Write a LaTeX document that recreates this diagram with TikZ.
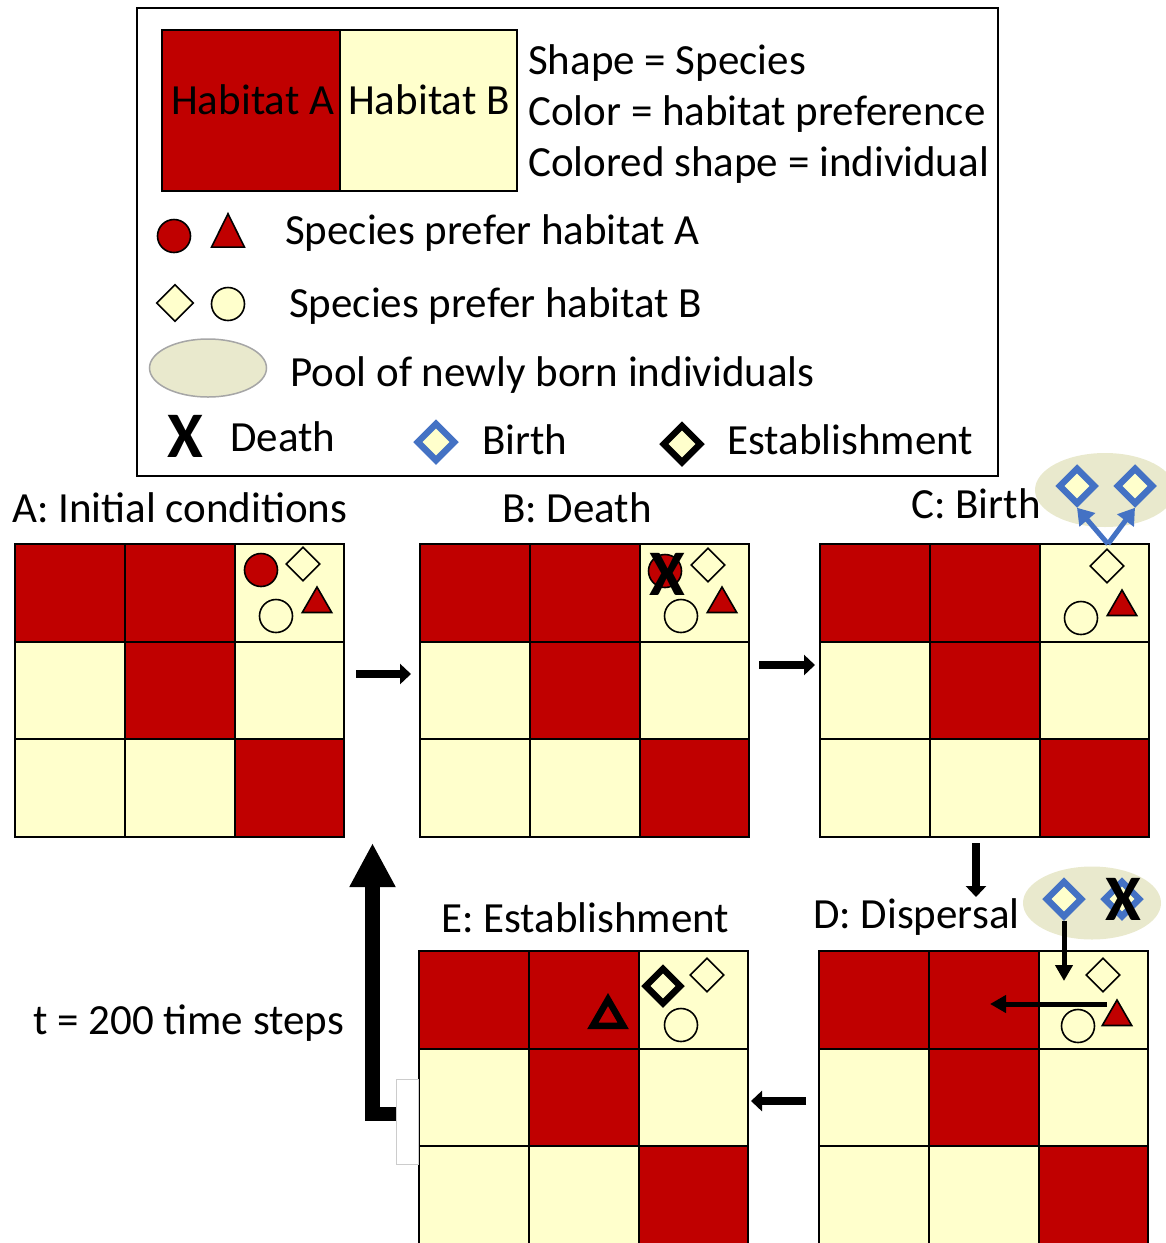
\documentclass[tikz,border=0pt]{standalone}
\usepackage{fontspec}
\setmainfont{Carlito}
\usetikzlibrary{positioning, arrows.meta, shapes.geometric}
\definecolor{habitatred}{HTML}{C00000}
\definecolor{habitatyellow}{HTML}{FFFFCC}
\definecolor{poolcolor}{HTML}{E9E9CD}
\definecolor{birthblue}{HTML}{4472C4}

\begin{document}
\begin{tikzpicture}[
    x=1pt, y=-1pt,
    font=\fontsize{43}{50}\selectfont,
    cell/.style={
        draw, line width=2pt, inner sep=0pt, outer sep=0pt,
        minimum width=109.7pt, minimum height=97.5pt
    },
    redcell/.style={cell, fill=habitatred},
    yellowcell/.style={cell, fill=habitatyellow},
    label/.style={anchor=base west, inner sep=0pt},
    dot/.style={draw, circle, line width=1.6pt, inner sep=0pt, minimum size=33pt},
    reddot/.style={dot, fill=habitatred},
    yellowdot/.style={dot, fill=habitatyellow},
    gem/.style={draw, diamond, line width=1.6pt, fill=habitatyellow, inner sep=0pt, minimum size=34pt},
    birthgem/.style={gem, draw=birthblue, line width=6.5pt, minimum size=37pt},
    boldgem/.style={gem, line width=6.5pt, minimum size=37pt},
    tri/.style={
        draw, regular polygon, regular polygon sides=3, line width=1.6pt,
        fill=habitatred, inner sep=0pt, minimum size=34pt
    },
    pool/.style={draw=none, ellipse, fill=poolcolor, inner sep=0pt},
    cross/.style={inner sep=0pt, font=\fontsize{65}{65}\selectfont\bfseries},
    stepline/.style={draw, line width=8pt, -{Triangle[length=11pt, width=20pt]}},
    moveline/.style={draw, line width=5pt, -{Triangle[length=16pt, width=17pt]}},
    birthline/.style={draw=birthblue, line width=5pt, -{Triangle[length=16pt, width=20pt]}},
    backline/.style={draw, line width=14.5pt, -{Triangle[length=44pt, width=43pt]}}
]
\useasboundingbox (0,0) rectangle (1166,1243);

% ==========================================
% LEGEND
% ==========================================

\node[draw, line width=2pt, inner sep=0pt, minimum width=861pt, minimum height=468pt] (Legend) at (567.5, 242) {};

\node[draw, line width=2pt, fill=habitatred, inner sep=0pt, outer sep=0pt, minimum width=178pt, minimum height=161pt] (HabitatA) at (251, 110.5) {};
\node[draw, line width=2pt, fill=habitatyellow, inner sep=0pt, outer sep=0pt, minimum width=177pt, minimum height=161pt] (HabitatB) [right=0pt of HabitatA] {};
\node[label] (HabitatAText) at (171, 114) {Habitat A};
\node[label] (HabitatBText) at (348, 114) {Habitat B};

\node[label] (ShapeText) at (528, 74) {Shape = Species};
\node[label] (ColorText) at (528, 125) {Color = habitat preference};
\node[label] (ColoredText) at (528, 176) {Colored shape = individual};

\node[reddot] (LegendDot) at (174, 236) {};
\node[tri, yscale=1.17, minimum size=38pt] (LegendTri) at (228, 236) {};
\node[label] (PreferA) at (285, 244) {Species prefer habitat A};

\node[gem, minimum size=37pt] (LegendGem) at (175, 303) {};
\node[yellowdot] (LegendDotB) at (228, 304) {};
\node[label] (PreferB) at (289, 317) {Species prefer habitat B};

\node[pool, draw=gray!70, line width=1.5pt, minimum width=117pt, minimum height=58pt] (LegendPool) at (208, 368) {};
\node[label] (PoolText) at (290, 386) {Pool of newly born individuals};

\node[cross] (LegendCross) at (185, 436) {X};
\node[label] (DeathText) at (230, 451) {Death};
\node[birthgem, minimum size=39pt] (LegendBirth) at (436, 442) {};
\node[label] (BirthText) at (482, 454) {Birth};
\node[boldgem, minimum size=39pt] (LegendEst) at (682, 444) {};
\node[label] (EstText) at (727, 454) {Establishment};

% ==========================================
% A: INITIAL CONDITIONS
% ==========================================

\node[label] (TitleA) at (12, 522) {A: Initial conditions};

\node[redcell] (A1) at (70, 592.75) {};
\node[redcell] (A2) [right=0pt of A1] {};
\node[yellowcell] (A3) [right=0pt of A2] {};
\node[yellowcell] (A4) [below=0pt of A1] {};
\node[redcell] (A5) [right=0pt of A4] {};
\node[yellowcell] (A6) [right=0pt of A5] {};
\node[yellowcell] (A7) [below=0pt of A4] {};
\node[yellowcell] (A8) [right=0pt of A7] {};
\node[redcell] (A9) [right=0pt of A8] {};

\node[reddot] (DotA) at (261, 570) {};
\node[gem] (GemA) at (303, 564) {};
\node[tri] (TriA) at (317, 604) {};
\node[yellowdot] (DotA2) at (276, 616) {};

% ==========================================
% B: DEATH
% ==========================================

\node[label] (TitleB) at (502, 522) {B: Death};

\node[redcell] (B1) at (475, 592.75) {};
\node[redcell] (B2) [right=0pt of B1] {};
\node[yellowcell] (B3) [right=0pt of B2] {};
\node[yellowcell] (B4) [below=0pt of B1] {};
\node[redcell] (B5) [right=0pt of B4] {};
\node[yellowcell] (B6) [right=0pt of B5] {};
\node[yellowcell] (B7) [below=0pt of B4] {};
\node[yellowcell] (B8) [right=0pt of B7] {};
\node[redcell] (B9) [right=0pt of B8] {};

\node[reddot] (DotB) at (665, 571) {};
\node[cross] (CrossB) at (667, 574) {X};
\node[gem] (GemB) at (708, 565) {};
\node[tri] (TriB) at (722, 604) {};
\node[yellowdot] (DotB2) at (681, 616) {};

% ==========================================
% C: BIRTH
% ==========================================

\node[pool, minimum width=140pt, minimum height=74pt] (PoolC) at (1105, 490) {};
\node[label] (TitleC) at (911, 518) {C: Birth};

\node[redcell] (C1) at (875, 592.75) {};
\node[redcell] (C2) [right=0pt of C1] {};
\node[yellowcell] (C3) [right=0pt of C2] {};
\node[yellowcell] (C4) [below=0pt of C1] {};
\node[redcell] (C5) [right=0pt of C4] {};
\node[yellowcell] (C6) [right=0pt of C5] {};
\node[yellowcell] (C7) [below=0pt of C4] {};
\node[yellowcell] (C8) [right=0pt of C7] {};
\node[redcell] (C9) [right=0pt of C8] {};

\node[gem] (GemC) at (1107, 566) {};
\node[tri] (TriC) at (1122, 607) {};
\node[yellowdot] (DotC) at (1081, 618) {};

\node[birthgem] (BirthC1) at (1077, 486) {};
\node[birthgem] (BirthC2) at (1135, 486) {};
\coordinate (BirthRoot) at (1108, 544);
\draw[birthline] (BirthRoot) -- (BirthC1.south);
\draw[birthline] (BirthRoot) -- (BirthC2.south);

% ==========================================
% D: DISPERSAL
% ==========================================

\node[label] (TitleD) at (813, 928) {D: Dispersal};
\node[pool, minimum width=138pt, minimum height=73pt] (PoolD) at (1092, 903) {};

\node[redcell] (D1) at (874, 999.75) {};
\node[redcell] (D2) [right=0pt of D1] {};
\node[yellowcell] (D3) [right=0pt of D2] {};
\node[yellowcell] (D4) [below=0pt of D1] {};
\node[redcell] (D5) [right=0pt of D4] {};
\node[yellowcell] (D6) [right=0pt of D5] {};
\node[yellowcell] (D7) [below=0pt of D4] {};
\node[yellowcell] (D8) [right=0pt of D7] {};
\node[redcell] (D9) [right=0pt of D8] {};

\node[gem] (GemD) at (1103, 975) {};
\node[tri] (TriD) at (1117, 1017) {};
\node[yellowdot] (DotD) at (1078, 1026) {};

\node[birthgem] (BirthD1) at (1064, 899) {};
\node[birthgem] (BirthD2) at (1122, 899) {};
\node[cross] (CrossD) at (1123, 899) {X};

% Routing inside the panel
\coordinate (LandD) at (1064, 981);
\coordinate (LeaveStart) at (1107, 1004);
\coordinate (LeaveEnd) at (990, 1004);
\draw[moveline] (BirthD1.south) -- (LandD);
\draw[moveline] (LeaveStart) -- (LeaveEnd);

% ==========================================
% E: ESTABLISHMENT
% ==========================================

\node[label] (TitleE) at (441, 932) {E: Establishment};

\node[redcell] (E1) at (474, 999.75) {};
\node[redcell] (E2) [right=0pt of E1] {};
\node[yellowcell] (E3) [right=0pt of E2] {};
\node[yellowcell] (E4) [below=0pt of E1] {};
\node[redcell] (E5) [right=0pt of E4] {};
\node[yellowcell] (E6) [right=0pt of E5] {};
\node[yellowcell] (E7) [below=0pt of E4] {};
\node[yellowcell] (E8) [right=0pt of E7] {};
\node[redcell] (E9) [right=0pt of E8] {};

\node[boldgem] (EstGem) at (663, 986) {};
\node[gem] (GemE) at (707, 975) {};
\node[yellowdot] (DotE) at (681, 1025) {};
\node[tri, line width=6.5pt, minimum size=35pt] (EstTri) at (608, 1017) {};

% ==========================================
% ARROWS BETWEEN PANELS
% ==========================================

\coordinate (ABstart) at (356, 674);
\coordinate (ABend) at (411, 674);
\coordinate (BCstart) at (759, 665);
\coordinate (BCend) at (815, 665);
\coordinate (CDstart) at (976, 843);
\coordinate (CDend) at (976, 897);
\coordinate (DEstart) at (806, 1101);
\coordinate (DEend) at (751, 1101);
\draw[stepline] (ABstart) -- (ABend);
\draw[stepline] (BCstart) -- (BCend);
\draw[stepline] (CDstart) -- (CDend);
\draw[stepline] (DEstart) -- (DEend);

\node[label] (TimeText) at (33, 1034) {t = 200 time steps};
\node[draw=gray!40, line width=1pt, inner sep=0pt, minimum width=22pt, minimum height=85pt] (Tab) at (407, 1122) {};
\coordinate (BackCorner) at (372.5, 1114);
\coordinate (BackEnd) at (372.5, 843);
\draw[backline] (Tab.west |- BackCorner) -- (BackCorner) -- (BackEnd);

\end{tikzpicture}
\end{document}
